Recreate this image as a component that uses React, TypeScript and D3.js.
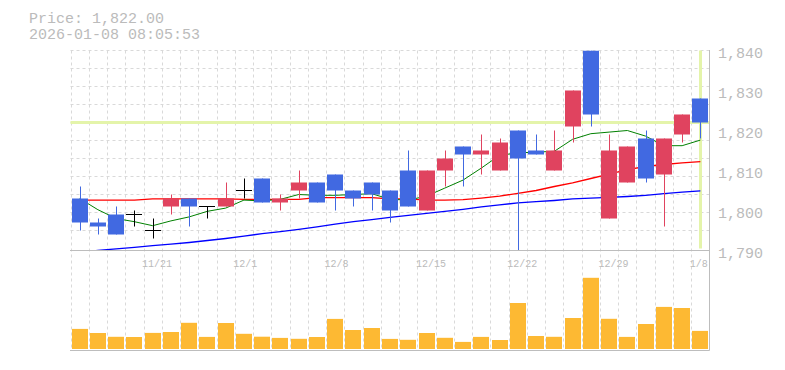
import React from 'react';
import * as d3 from 'd3';

const dates = ["11/17","11/18","11/19","11/20","11/21","11/25","11/26","11/27","11/28","12/1","12/2","12/3","12/4","12/5","12/8","12/9","12/10","12/11","12/12","12/15","12/16","12/17","12/18","12/19","12/22","12/23","12/24","12/25","12/26","12/29","12/30","1/5","1/6","1/7","1/8"];
const opens  = [1803,1797,1799,1799,1795,1801,1803,1801,1801,1805,1808,1802,1805,1807,1809,1805,1807,1805,1810,1800,1810,1816,1814,1810,1820,1815,1810,1821,1840,1798,1807,1818,1809,1819,1828];
const highs  = [1806,1798,1801,1800,1798,1804,1803,1801,1807,1808,1808,1804,1810,1807,1809,1805,1807,1805,1815,1810,1815,1816,1819,1818,1820,1819,1820,1830,1840,1819,1816,1820,1818,1824,1828];
const lows   = [1795,1794,1794,1796,1793,1799,1796,1798,1801,1803,1802,1800,1803,1802,1800,1801,1800,1797,1801,1800,1806,1806,1809,1810,1790,1814,1810,1817,1821,1798,1807,1807,1796,1817,1818];
const closes = [1797,1796,1794,1799,1795,1803,1801,1801,1803,1805,1802,1803,1807,1802,1805,1803,1804,1800,1801,1810,1813,1814,1815,1817,1813,1814,1815,1830,1824,1815,1816,1808,1818,1824,1822];
const volumes = [20.1,16.0,12.2,12.0,16.1,17.0,26.2,12.1,26.0,15.2,12.3,11.1,10.2,12.0,30.1,19.0,21.0,10.1,9.2,16.0,11.2,7.1,12.1,9.0,46.0,13.0,12.2,31.0,71.2,30.2,12.1,25.0,42.1,41.0,18.1];
const maShort = [1803.0,1800.2,1798.0,1797.2,1796.2,1797.4,1798.4,1799.8,1800.6,1802.6,1802.4,1802.8,1804.0,1803.8,1803.8,1804.0,1804.2,1802.8,1802.6,1803.6,1805.6,1807.6,1810.6,1813.8,1814.4,1814.6,1814.8,1817.8,1819.2,1819.6,1820.0,1818.6,1816.2,1816.2,1817.6];
const maMid = [1802.6,1802.6,1802.6,1802.6,1802.9,1802.9,1802.9,1802.9,1802.9,1802.8,1802.8,1802.8,1802.8,1803.2,1803.2,1803.2,1803.2,1802.9,1802.9,1802.6,1802.6,1802.7,1803.1,1803.6,1804.3,1805.0,1806.0,1806.9,1808.0,1809.1,1810.2,1811.0,1811.5,1811.9,1812.2];
const maLong = [1789.5,1790.0,1790.4,1790.8,1791.2,1791.6,1792.0,1792.5,1793.0,1793.6,1794.2,1794.7,1795.3,1795.9,1796.6,1797.2,1797.7,1798.3,1798.8,1799.3,1799.8,1800.3,1800.9,1801.4,1801.9,1802.2,1802.5,1802.9,1803.1,1803.3,1803.5,1803.8,1804.2,1804.6,1804.9];
const priceTicks = [1790,1800,1810,1820,1830,1840];
const dateTicks = ["11/21","12/1","12/8","12/15","12/22","12/29","1/8"];
const lastPrice = 1822;
const headerLines = ["Price: 1,822.00","2026-01-08 08:05:53"];

const W = 785, H = 370;
const L = 70.5, R = 709.5, TOP = 50.5, BOT = 250.5;
const VBOT = 349, VTOP = 277;
const FONT = "'Liberation Mono', monospace";
const UP = "#e0435f", DOWN = "#4169e1", TXT = "#bbbbbb", GRID = "#d9d9d9", AXIS = "#bdbdbd";

export default function App() {
  const n = dates.length;
  const x = d3.scaleBand<number>().domain(d3.range(n)).range([L, R]).padding(0);
  const bw = x.bandwidth();
  const cx = (i: number) => (x(i) as number) + bw / 2;
  const y = d3.scaleLinear().domain([1790, 1840]).range([BOT, TOP]);
  const yv = d3.scaleLinear().domain([0, 72]).range([VBOT, VTOP]);
  const line = d3.line<number>().x((_, i) => cx(i)).y(d => y(d));
  const hGrid = d3.range(TOP, BOT - 10, 18);

  return (
    <svg width={W} height={H} style={{ position: 'absolute', left: 0, top: 0, background: '#fff' }}>
      <defs>
        <clipPath id="plot"><rect x={L} y={TOP} width={R - L} height={BOT - TOP} /></clipPath>
      </defs>
      {headerLines.map((t, i) => (
        <text key={t} x={29} y={23 + i * 15.5} fontFamily={FONT} fontSize={15} fill={TXT}>{t}</text>
      ))}
      {hGrid.map(g => (
        <line key={'h' + g} x1={L} x2={R} y1={g} y2={g} stroke={GRID} strokeDasharray="3,3" />
      ))}
      {d3.range(n).map(i => {
        const gx = Math.round(x(i) as number) + 0.5;
        return <line key={'v' + i} x1={gx} x2={gx} y1={TOP} y2={350} stroke={GRID} strokeDasharray="3,3" />;
      })}
      <line x1={L} x2={R} y1={y(lastPrice)} y2={y(lastPrice)} stroke="#e4f4aa" strokeWidth={3} />
      <line x1={Math.round(cx(n - 1)) + 0.5} x2={Math.round(cx(n - 1)) + 0.5} y1={TOP} y2={BOT - 2} stroke="#e4f4aa" strokeWidth={3} />
      <g clipPath="url(#plot)" fill="none">
        <path d={line(maLong) || ''} stroke="#0000ff" strokeWidth={1.3} />
        <path d={line(maMid) || ''} stroke="#ff0000" strokeWidth={1.3} />
        <path d={line(maShort) || ''} stroke="#008000" strokeWidth={1} />
      </g>
      <g clipPath="url(#plot)">
        {d3.range(n).map(i => {
          const o = opens[i], c = closes[i], h = highs[i], l = lows[i];
          const wx = Math.round(cx(i)) + 0.5;
          const bx = Math.round(cx(i) - 8);
          if (o === c) {
            return (
              <g key={i} stroke="#000">
                <line x1={wx} x2={wx} y1={y(h)} y2={y(l)} />
                <line x1={bx} x2={bx + 16} y1={y(o)} y2={y(o)} />
              </g>
            );
          }
          const col = c > o ? UP : DOWN;
          return (
            <g key={i}>
              <line x1={wx} x2={wx} y1={y(h)} y2={y(l)} stroke={col} />
              <rect x={bx} width={16} y={y(Math.max(o, c))} height={Math.abs(y(o) - y(c))} fill={col} />
            </g>
          );
        })}
      </g>
      {volumes.map((v, i) => (
        <rect key={'vol' + i} x={Math.round(cx(i) - 8)} width={16} y={yv(v)} height={VBOT - yv(v)} fill="#fdb933" />
      ))}
      <line x1={L - 0.5} x2={R} y1={BOT} y2={BOT} stroke={AXIS} />
      <line x1={L - 0.5} x2={R} y1={350.5} y2={350.5} stroke={AXIS} />
      <line x1={R} x2={R} y1={TOP - 0.5} y2={350.5} stroke={AXIS} />
      {priceTicks.map(p => (
        <text key={p} x={718} y={y(p) + 7} fontFamily={FONT} fontSize={15} fill={TXT}>{d3.format(',')(p)}</text>
      ))}
      {dateTicks.map(d => {
        const i = dates.indexOf(d);
        return <text key={d} x={(x(i) as number) - 1.5} y={266.5} fontFamily={FONT} fontSize={10} fill={TXT}>{d}</text>;
      })}
    </svg>
  );
}
